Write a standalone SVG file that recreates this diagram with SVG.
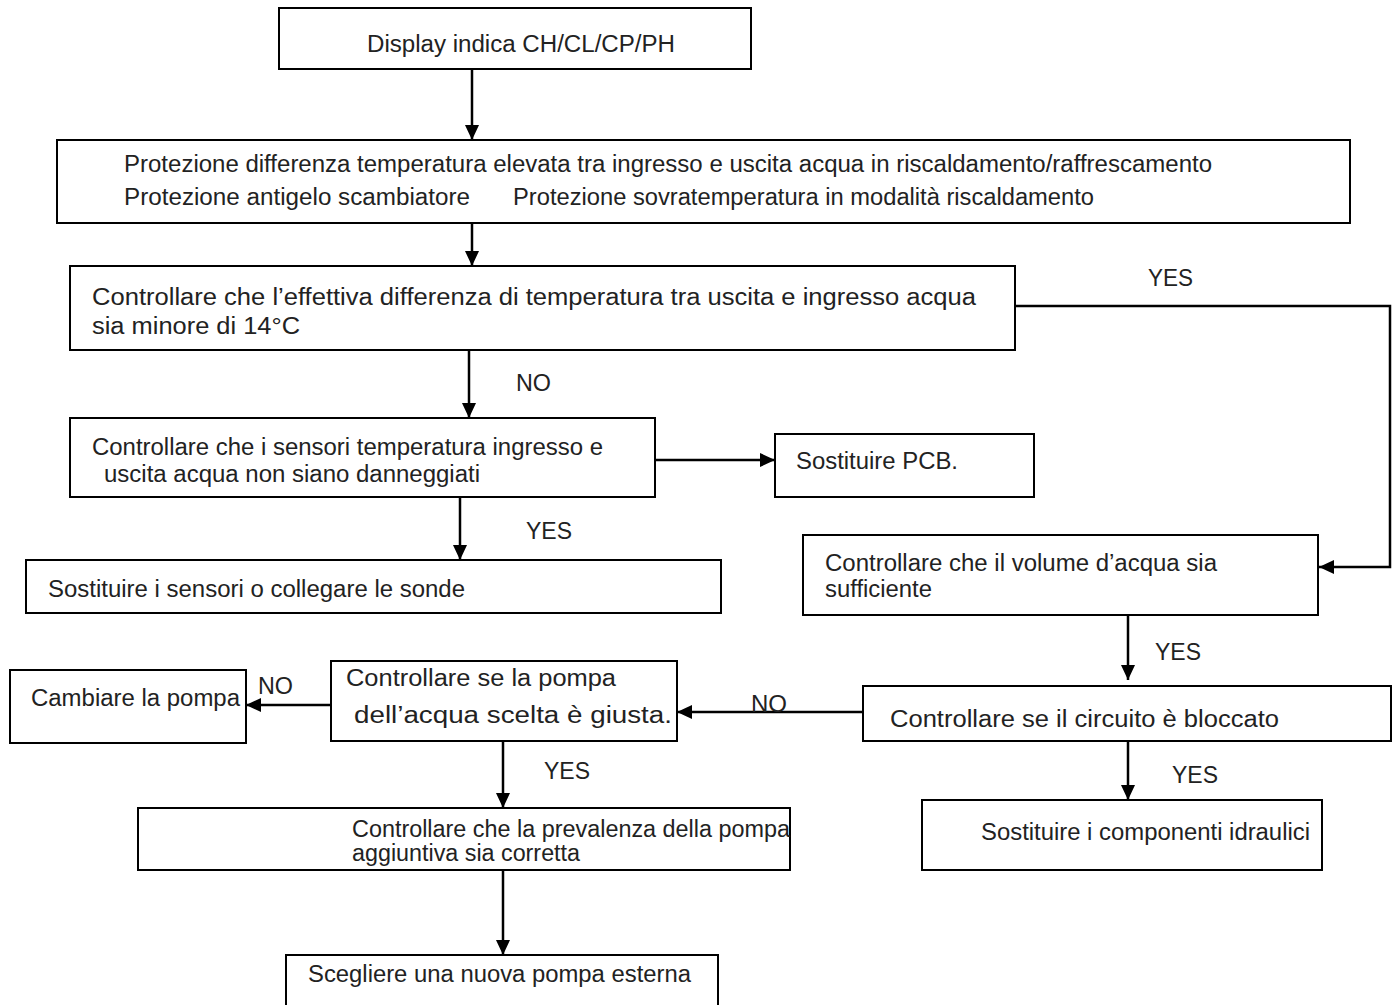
<svg xmlns="http://www.w3.org/2000/svg" width="1396" height="1005" viewBox="0 0 1396 1005">
<style>
.box{fill:#fff;stroke:#000;stroke-width:2}
text{font-family:"Liberation Sans",Arial,sans-serif;font-size:23px;fill:#222}
.c{fill:none;stroke:#000;stroke-width:2.5}
</style>
<defs>
<marker id="ah" markerUnits="userSpaceOnUse" markerWidth="16" markerHeight="14" refX="15" refY="7" orient="auto">
<path d="M0,0 L15,7 L0,14 Z" fill="#000"/>
</marker>
</defs>
<rect width="1396" height="1005" fill="#fff"/>
<g id="connectors">
<line class="c" x1="472" y1="69" x2="472" y2="140" marker-end="url(#ah)"/>
<line class="c" x1="472" y1="223" x2="472" y2="266" marker-end="url(#ah)"/>
<polyline class="c" points="1015,306 1390,306 1390,567 1319,567" marker-end="url(#ah)"/>
<line class="c" x1="469" y1="350" x2="469" y2="418" marker-end="url(#ah)"/>
<line class="c" x1="655" y1="460" x2="775" y2="460" marker-end="url(#ah)"/>
<line class="c" x1="460" y1="497" x2="460" y2="560" marker-end="url(#ah)"/>
<line class="c" x1="1128" y1="615" x2="1128" y2="680" marker-end="url(#ah)"/>
<line class="c" x1="863" y1="712" x2="677" y2="712" marker-end="url(#ah)"/>
<line class="c" x1="331" y1="705" x2="246" y2="705" marker-end="url(#ah)"/>
<line class="c" x1="503" y1="741" x2="503" y2="808" marker-end="url(#ah)"/>
<line class="c" x1="503" y1="870" x2="503" y2="955" marker-end="url(#ah)"/>
<line class="c" x1="1128" y1="741" x2="1128" y2="800" marker-end="url(#ah)"/>
<text x="1148" y="286" textLength="45" lengthAdjust="spacingAndGlyphs">YES</text>
<text x="516" y="391" textLength="35" lengthAdjust="spacingAndGlyphs">NO</text>
<text x="526" y="539" textLength="46" lengthAdjust="spacingAndGlyphs">YES</text>
<text x="1155" y="660" textLength="46" lengthAdjust="spacingAndGlyphs">YES</text>
<text x="751" y="712" textLength="36" lengthAdjust="spacingAndGlyphs">NO</text>
<text x="258" y="694" textLength="35" lengthAdjust="spacingAndGlyphs">NO</text>
<text x="544" y="779" textLength="46" lengthAdjust="spacingAndGlyphs">YES</text>
<text x="1172" y="783" textLength="46" lengthAdjust="spacingAndGlyphs">YES</text>
</g>
<g id="n1">
<rect class="box" x="279" y="8" width="472" height="61"/>
<text x="367" y="52" textLength="308" lengthAdjust="spacingAndGlyphs">Display indica CH/CL/CP/PH</text>
</g>
<g id="n2">
<rect class="box" x="57" y="140" width="1293" height="83"/>
<text x="124" y="172" textLength="1088" lengthAdjust="spacingAndGlyphs">Protezione differenza temperatura elevata tra ingresso e uscita acqua in riscaldamento/raffrescamento</text>
<text x="124" y="205" textLength="346" lengthAdjust="spacingAndGlyphs">Protezione antigelo scambiatore</text>
<text x="513" y="205" textLength="581" lengthAdjust="spacingAndGlyphs">Protezione sovratemperatura in modalità riscaldamento</text>
</g>
<g id="n3">
<rect class="box" x="70" y="266" width="945" height="84"/>
<text x="92" y="305" textLength="884" lengthAdjust="spacingAndGlyphs">Controllare che l’effettiva differenza di temperatura tra uscita e ingresso acqua</text>
<text x="92" y="334" textLength="208" lengthAdjust="spacingAndGlyphs">sia minore di 14°C</text>
</g>
<g id="n4">
<rect class="box" x="70" y="418" width="585" height="79"/>
<text x="92" y="455" textLength="511" lengthAdjust="spacingAndGlyphs">Controllare che i sensori temperatura ingresso e</text>
<text x="104" y="482" textLength="376" lengthAdjust="spacingAndGlyphs">uscita acqua non siano danneggiati</text>
</g>
<g id="n5">
<rect class="box" x="775" y="434" width="259" height="63"/>
<text x="796" y="469" textLength="162" lengthAdjust="spacingAndGlyphs">Sostituire PCB.</text>
</g>
<g id="n6">
<rect class="box" x="26" y="560" width="695" height="53"/>
<text x="48" y="597" textLength="417" lengthAdjust="spacingAndGlyphs">Sostituire i sensori o collegare le sonde</text>
</g>
<g id="n7">
<rect class="box" x="803" y="535" width="515" height="80"/>
<text x="825" y="571" textLength="392" lengthAdjust="spacingAndGlyphs">Controllare che il volume d’acqua sia</text>
<text x="825" y="597" textLength="107" lengthAdjust="spacingAndGlyphs">sufficiente</text>
</g>
<g id="n8">
<rect class="box" x="863" y="686" width="528" height="55"/>
<text x="890" y="727" textLength="389" lengthAdjust="spacingAndGlyphs">Controllare se il circuito è bloccato</text>
</g>
<g id="n9">
<rect class="box" x="331" y="661" width="346" height="80"/>
<text x="346" y="686" textLength="270" lengthAdjust="spacingAndGlyphs">Controllare se la pompa</text>
<text x="354" y="723" textLength="318" lengthAdjust="spacingAndGlyphs">dell’acqua scelta è giusta.</text>
</g>
<g id="n10">
<rect class="box" x="10" y="670" width="236" height="73"/>
<text x="31" y="706" textLength="209" lengthAdjust="spacingAndGlyphs">Cambiare la pompa</text>
</g>
<g id="n11">
<rect class="box" x="138" y="808" width="652" height="62"/>
<text x="352" y="837" textLength="438" lengthAdjust="spacingAndGlyphs">Controllare che la prevalenza della pompa</text>
<text x="352" y="861" textLength="228" lengthAdjust="spacingAndGlyphs">aggiuntiva sia corretta</text>
</g>
<g id="n12">
<rect class="box" x="922" y="800" width="400" height="70"/>
<text x="981" y="840" textLength="329" lengthAdjust="spacingAndGlyphs">Sostituire i componenti idraulici</text>
</g>
<g id="n13">
<rect class="box" x="286" y="955" width="432" height="60"/>
<text x="308" y="982" textLength="383" lengthAdjust="spacingAndGlyphs">Scegliere una nuova pompa esterna</text>
</g>
</svg>
